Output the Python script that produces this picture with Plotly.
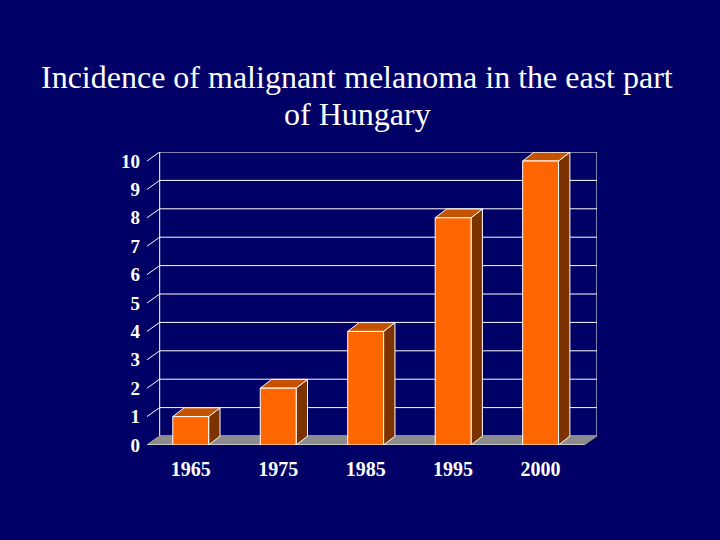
import plotly.graph_objects as go

categories = ["1965", "1975", "1985", "1995", "2000"]
values = [1, 2, 4, 8, 10]
y_ticks = list(range(0, 11))
title_lines = ["Incidence of malignant melanoma in the east part", "of Hungary"]

BG = "#000066"
FRONT = "#FF6600"
TOP = "#C45200"
SIDE = "#7D3300"
FLOOR = "#8C8C8C"

DX, DY = 0.145, 0.317      # depth of the back wall (data units)
BDX, BDY = 0.13, 0.31      # depth of each bar
HALF = 0.205               # half bar width
n = len(categories)
xl, xr = -0.5, n - 0.5
ymax = max(y_ticks)

fig = go.Figure()

def poly(xs, ys, fill, line_color="white", lw=1):
    fig.add_trace(go.Scatter(x=xs + [xs[0]], y=ys + [ys[0]], mode="lines", fill="toself",
                             fillcolor=fill, line=dict(color=line_color, width=lw),
                             hoverinfo="skip", showlegend=False))

def line(xs, ys, color="white", w=1):
    fig.add_trace(go.Scatter(x=xs, y=ys, mode="lines", line=dict(color=color, width=w),
                             hoverinfo="skip", showlegend=False))

# back wall gridlines
for v in y_ticks:
    line([xl + DX, xr + DX], [v + DY, v + DY])
    line([xl - 0.03, xl, xl + DX], [v, v, v + DY])
# wall edges
line([xl + DX, xl + DX], [DY, ymax + DY])
line([xr + DX, xr + DX], [DY, ymax + DY])

# floor
poly([xl, xr, xr + DX, xl + DX], [0, 0, DY, DY], FLOOR, line_color=FLOOR)
line([xl, xr], [0, 0], color="white", w=1)

# category ticks
for i in range(n):
    b = i + 0.5
    line([b, b], [0, -0.22])

# bars
for i, v in enumerate(values):
    x0, x1 = i - HALF, i + HALF
    poly([x1, x1 + BDX, x1 + BDX, x1], [0, BDY, v + BDY, v], SIDE)
    poly([x0, x1, x1 + BDX, x0 + BDX], [v, v, v + BDY, v + BDY], TOP)
    poly([x0, x1, x1, x0], [0, 0, v, v], FRONT)

tickfont = dict(family="Liberation Serif", size=20, color="white", weight="bold")

for k, t in enumerate(title_lines):
    fig.add_annotation(text=t, xref="paper", yref="paper",
                       x=(357 - 147) / 450, y=(445 - (77 + 37 * k)) / 293,
                       xanchor="center", yanchor="middle", showarrow=False,
                       font=dict(family="Liberation Serif", size=32, color="white"))

fig.update_layout(
    width=720, height=540,
    paper_bgcolor=BG, plot_bgcolor=BG,
    margin=dict(l=147, r=123, t=152, b=95),
    xaxis=dict(range=[xl, xr + DX], tickvals=list(range(n)), ticktext=categories,
               showgrid=False, zeroline=False, showline=False, ticks="",
               tickfont=tickfont, ticklabelstandoff=10, fixedrange=True),
    yaxis=dict(range=[0, ymax + DY], tickvals=y_ticks, ticktext=[str(t) for t in y_ticks],
               showgrid=False, zeroline=False, showline=False, ticks="",
               tickfont=dict(tickfont, size=19), ticklabelstandoff=6, fixedrange=True),
    showlegend=False,
)

fig.write_html("out.html", config={"displayModeBar": False},
               post_script="document.body.style.margin='0';document.body.style.background='#000066';")
